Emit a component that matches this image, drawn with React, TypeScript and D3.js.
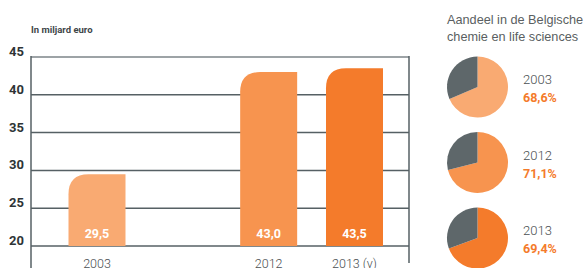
import React, { useEffect, useRef } from 'react';
import * as d3 from 'd3';

// bar chart: omzet in miljard euro
const years = ['2003', '2012', '2013 (v)'];
const values = [29.5, 43.0, 43.5];
const valueLabels = ['29,5', '43,0', '43,5'];
const yTicks = [20, 25, 30, 35, 40, 45];

// pies: aandeel in de Belgische chemie
const pieYears = ['2003', '2012', '2013'];
const pieShares = [68.6, 71.1, 69.4];
const pieLabels = ['68,6%', '71,1%', '69,4%'];

const colors = ['#f9aa72', '#f7944f', '#f47b2b'];
const grey = '#5e676a';

// top-left rounded bar path
const barPath = (x: number, y: number, w: number, h: number, r: number) =>
  `M${x},${y + h} L${x},${y + r} Q${x},${y} ${x + r},${y} L${x + w},${y} L${x + w},${y + h} Z`;

const App = () => {
  const ref = useRef<SVGSVGElement>(null);

  useEffect(() => {
    const svg = d3.select(ref.current);
    svg.selectAll('*').remove();

    const left = 31, right = 409;
    const yScale = d3.scaleLinear().domain([20, 45]).range([246, 57]);
    // spacer slot between 2003 and 2012
    const xScale = d3
      .scaleBand()
      .domain([years[0], '_gap', years[1], years[2]])
      .range([68.5, 383])
      .paddingInner(0.336)
      .paddingOuter(0);

    svg
      .append('text')
      .attr('x', left)
      .attr('y', 33)
      .style('font-family', 'Roboto')
      .style('font-weight', 'bold')
      .style('font-size', '9.5px')
      .attr('fill', '#3e4649')
      .text('In miljard euro');

    // grid
    svg
      .selectAll('.grid')
      .data(yTicks)
      .join('line')
      .attr('x1', left)
      .attr('x2', right)
      .attr('y1', (d) => yScale(d))
      .attr('y2', (d) => yScale(d))
      .attr('stroke', (d) => (d === 45 ? '#7d8588' : '#566064'))
      .attr('stroke-width', 1.5);

    svg
      .selectAll('.ytick')
      .data(yTicks)
      .join('text')
      .attr('x', 24)
      .attr('y', (d) => yScale(d) - 1)
      .attr('text-anchor', 'end')
      .style('font-family', 'Roboto')
      .style('font-weight', 'bold')
      .style('font-size', '13px')
      .attr('fill', '#2e3436')
      .text((d) => d);

    svg.append('line').attr('x1', left).attr('x2', left).attr('y1', 56).attr('y2', 268)
      .attr('stroke', '#566064').attr('stroke-width', 1.5);
    svg.append('line').attr('x1', right).attr('x2', right).attr('y1', 56).attr('y2', 263)
      .attr('stroke', '#566064').attr('stroke-width', 1.5);

    const bw = xScale.bandwidth();
    svg
      .selectAll('.bar')
      .data(values)
      .join('path')
      .attr('d', (d, i) =>
        barPath(xScale(years[i]) as number, yScale(d), bw, yScale(20) - yScale(d), 20)
      )
      .attr('fill', (d, i) => colors[i]);

    svg
      .selectAll('.vlabel')
      .data(valueLabels)
      .join('text')
      .attr('x', (d, i) => (xScale(years[i]) as number) + bw / 2)
      .attr('y', yScale(20) - 8)
      .attr('text-anchor', 'middle')
      .style('font-family', 'Roboto')
      .style('font-weight', 'bold')
      .style('font-size', '12.5px')
      .attr('fill', '#fff')
      .text((d) => d);

    svg
      .selectAll('.xlabel')
      .data(years)
      .join('text')
      .attr('x', (d) => (xScale(d) as number) + bw / 2)
      .attr('y', 268)
      .attr('text-anchor', 'middle')
      .style('font-family', 'Roboto')
      .style('font-weight', '300')
      .style('font-size', '12.5px')
      .attr('fill', '#4a4f52')
      .text((d) => d);

    // pie section
    const title = svg
      .append('text')
      .style('font-family', 'Liberation Sans')
      .style('font-size', '12.7px')
      .attr('fill', '#5a5f62');
    title.append('tspan').attr('x', 447).attr('y', 24).text('Aandeel in de Belgische');
    title.append('tspan').attr('x', 447).attr('y', 41).text('chemie en life sciences');

    const pieY = d3.scalePoint().domain(pieYears).range([87, 238]);
    const arc = d3.arc<d3.PieArcDatum<number>>().innerRadius(0).outerRadius(30.5);
    const pie = d3.pie<number>().sort(null);

    pieYears.forEach((yr, i) => {
      const g = svg.append('g').attr('transform', `translate(477.5, ${pieY(yr)})`);
      g.selectAll('path')
        .data(pie([pieShares[i], 100 - pieShares[i]]))
        .join('path')
        .attr('d', arc)
        .attr('fill', (d, j) => (j === 0 ? colors[i] : grey));
      g.append('text')
        .attr('x', 45.5)
        .attr('y', -3)
        .style('font-family', 'Roboto')
        .style('font-weight', '300')
        .style('font-size', '13px')
        .attr('fill', '#4a4f52')
        .text(yr);
      g.append('text')
        .attr('x', 45.5)
        .attr('y', 15)
        .style('font-family', 'Roboto')
        .style('font-weight', 'bold')
        .style('font-size', '12.5px')
        .attr('fill', '#f47b2b')
        .text(pieLabels[i]);
    });
  }, []);

  return (
    <svg
      ref={ref}
      width={585}
      height={268}
      style={{ position: 'absolute', left: 0, top: 0, background: '#fff' }}
    />
  );
};

export default App;
